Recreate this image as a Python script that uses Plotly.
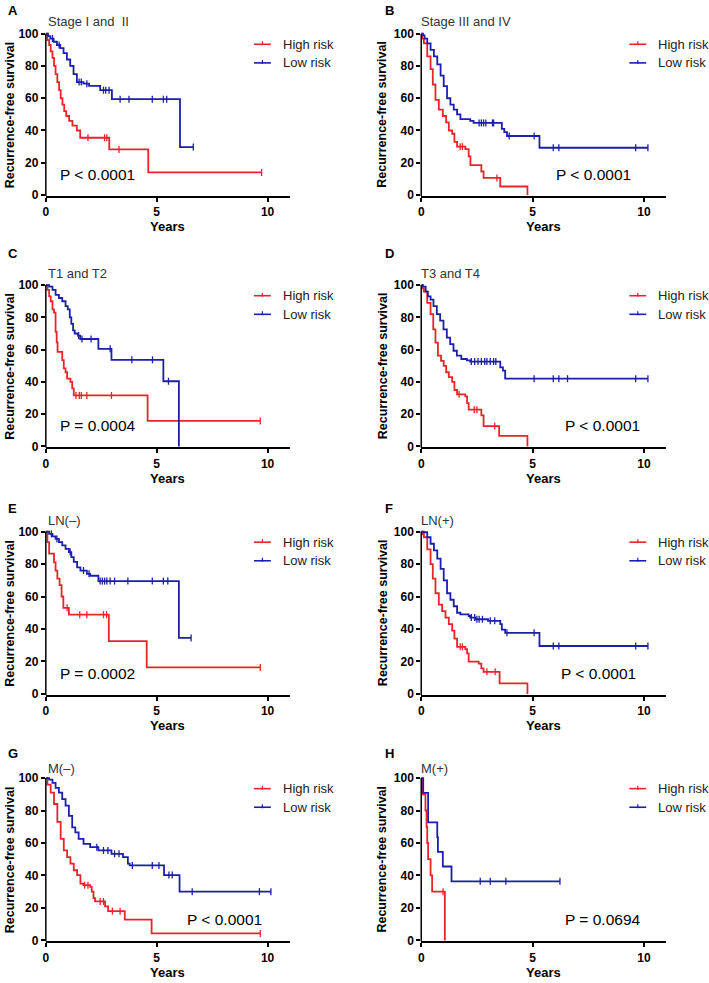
import plotly.graph_objects as go

W, H = 709, 983
FONT = "Liberation Sans, Arial, sans-serif"
RED = "#e8242b"
BLUE = "#1b1faa"

# ---------------- data: event times (years), survival after each drop (%), curve end, censor times
A_high_t = [0.07, 0.15, 0.22, 0.3, 0.37, 0.44, 0.52, 0.6, 0.67, 0.75, 0.83, 0.92, 1.05, 1.2, 1.4, 1.55, 2.86, 4.62]
A_high_s = [96, 93, 89, 85, 80, 75, 70, 65, 60, 56, 52, 49, 46, 43, 40, 35.5, 28.3, 14]
A_high_end = 9.73
A_high_c = [1.9, 2.65, 2.75, 3.3, 9.73]
A_low_t = [0.1, 0.2, 0.35, 0.5, 0.65, 0.8, 0.95, 1.1, 1.25, 1.4, 1.7, 1.95, 2.45, 2.98, 6.05]
A_low_s = [98.5, 97, 95, 93, 91, 88, 84, 80, 75, 70, 69, 67.6, 65, 59.4, 29.7]
A_low_end = 6.65
A_low_c = [0.3, 0.6, 1.5, 1.6, 1.85, 2.6, 2.7, 2.85, 3.35, 3.75, 4.8, 5.3, 5.45, 6.65]

B_high_t = [0.05, 0.12, 0.27, 0.42, 0.52, 0.64, 0.79, 0.97, 1.12, 1.24, 1.39, 1.49, 1.61, 1.98, 2.13, 2.21, 2.7, 2.8, 3.55, 4.77]
B_high_s = [97, 94, 86, 78, 68.5, 59, 53, 49, 45, 40, 38, 33, 30, 28.5, 24, 18.5, 14.6, 10.6, 5.3, 0]
B_high_end = 4.77
B_high_c = [1.75, 1.85, 3.4]
B_low_t = [0.08, 0.15, 0.27, 0.42, 0.57, 0.72, 0.87, 1.01, 1.16, 1.31, 1.46, 1.61, 1.76, 2.2, 2.35, 3.62, 3.73, 3.85, 5.31]
B_low_s = [99, 97, 94, 90, 86, 81, 74, 67.5, 60, 56, 53, 50, 47, 46, 44.7, 41, 39, 36.6, 29.3]
B_low_end = 10.18
B_low_c = [2.6, 2.7, 2.8, 2.9, 3.2, 3.25, 3.95, 5.07, 5.93, 6.18, 9.63, 10.18]

C_high_t = [0.07, 0.15, 0.22, 0.3, 0.37, 0.44, 0.49, 0.53, 0.74, 0.81, 0.89, 0.96, 1.11, 1.19, 1.26, 4.59]
C_high_s = [97, 93, 90, 85, 83, 71, 64.5, 58.6, 53.5, 48.4, 46, 42, 40, 36, 31.6, 15.8]
C_high_end = 9.67
C_high_c = [1.36, 1.51, 1.6, 1.85, 2.96, 9.67]
C_low_t = [0.15, 0.3, 0.44, 0.59, 0.74, 0.89, 0.99, 1.08, 1.15, 1.23, 1.3, 1.45, 1.55, 2.37, 2.96, 5.3, 6.0]
C_low_s = [99, 97, 94, 92, 90, 87, 85, 80, 76, 72, 70, 68.7, 66.6, 60.5, 53.7, 40.4, 0]
C_low_end = 6.0
C_low_c = [1.48, 1.63, 2.04, 2.9, 3.88, 4.81, 5.53]

D_high_t = [0.05, 0.12, 0.27, 0.42, 0.54, 0.64, 0.75, 0.89, 1.01, 1.12, 1.24, 1.39, 1.49, 1.61, 1.98, 2.06, 2.13, 2.7, 2.8, 3.5, 4.77]
D_high_s = [98, 96, 89, 82, 72.6, 64.4, 56.3, 53, 50, 46, 43, 40, 35, 32.3, 31, 26.8, 22.8, 19.3, 12.6, 6.5, 0]
D_high_end = 4.77
D_high_c = [1.7, 2.38, 2.5, 3.3]
D_low_t = [0.08, 0.2, 0.3, 0.42, 0.55, 0.7, 0.85, 1.0, 1.15, 1.3, 1.45, 1.6, 1.8, 2.05, 2.2, 3.55, 3.67, 3.77]
D_low_s = [99, 96, 93, 91, 87, 82, 78, 72.6, 67.5, 63.4, 59.3, 56.3, 54.2, 53.3, 52.6, 49, 47, 42]
D_low_end = 10.18
D_low_c = [2.25, 2.4, 2.55, 2.7, 2.85, 2.95, 3.1, 3.25, 3.35, 5.07, 5.93, 6.18, 6.57, 9.63, 10.18]

E_high_t = [0.07, 0.15, 0.37, 0.44, 0.52, 0.62, 0.71, 0.79, 1.04, 2.84, 4.55]
E_high_s = [93.5, 86.4, 81, 76, 71, 67, 60, 53, 48.8, 32.5, 16.3]
E_high_end = 9.67
E_high_c = [0.96, 1.53, 1.85, 2.6, 2.74, 9.67]
E_low_t = [0.15, 0.3, 0.44, 0.59, 0.74, 0.89, 1.04, 1.15, 1.26, 1.41, 1.56, 1.85, 2.0, 2.37, 6.0]
E_low_s = [98.6, 97, 95.5, 93.5, 91.5, 89.4, 87.4, 84.3, 81.3, 78, 76, 74, 72.8, 69.5, 34.5]
E_low_end = 6.55
E_low_c = [0.25, 0.5, 1.1, 1.7, 1.95, 2.45, 2.55, 2.65, 2.75, 2.9, 3.1, 3.7, 4.8, 5.3, 5.5, 6.55]

F_high_t = [0.05, 0.12, 0.27, 0.42, 0.52, 0.64, 0.79, 0.94, 1.09, 1.24, 1.39, 1.49, 1.61, 1.98, 2.06, 2.13, 2.58, 2.7, 2.8, 3.52, 4.77]
F_high_s = [98.5, 96.5, 89, 80, 71, 62, 55, 51, 47, 43, 39, 34, 29, 27.6, 25, 19.9, 18.7, 15.7, 13.6, 6.5, 0]
F_high_end = 4.77
F_high_c = [1.75, 1.85, 2.95, 3.32]
F_low_t = [0.12, 0.27, 0.42, 0.57, 0.72, 0.87, 1.01, 1.16, 1.31, 1.46, 1.61, 1.76, 2.13, 2.2, 2.42, 3.0, 3.55, 3.62, 3.77, 5.31]
F_low_s = [99.6, 96.5, 92.5, 88.4, 83.3, 77, 70, 62, 58, 54, 50, 49, 48, 47, 46, 45, 43, 39.6, 37.6, 29.5]
F_low_end = 10.18
F_low_c = [2.25, 2.4, 2.5, 2.6, 2.75, 3.1, 3.3, 3.85, 5.07, 5.93, 6.18, 9.63, 10.18]

G_high_t = [0.07, 0.22, 0.37, 0.52, 0.67, 0.81, 0.96, 1.11, 1.26, 1.41, 1.56, 1.7, 2.0, 2.07, 2.15, 2.22, 2.67, 2.81, 3.56, 4.77]
G_high_s = [96, 91, 84, 73, 62.5, 55.4, 51.3, 47.3, 43.2, 40.2, 35, 34, 33, 30, 26, 24, 21, 18, 12.8, 4.3]
G_high_end = 9.67
G_high_c = [1.75, 1.9, 2.45, 2.6, 3.0, 3.35, 9.67]
G_low_t = [0.15, 0.3, 0.44, 0.59, 0.74, 0.89, 1.04, 1.19, 1.33, 1.48, 1.7, 2.0, 2.37, 2.96, 3.48, 3.7, 3.78, 5.33, 6.03]
G_low_s = [99, 97, 94, 91, 87, 83, 76.7, 69.6, 66.5, 62.5, 59.4, 57.4, 55.4, 53.3, 51.3, 47.3, 46.2, 40.2, 30]
G_low_end = 10.15
G_low_c = [2.3, 2.6, 2.8, 3.1, 3.3, 3.9, 4.8, 5.1, 5.55, 5.7, 6.6, 9.63, 10.15]

H_high_t = [0.045, 0.19, 0.24, 0.27, 0.31, 0.42, 0.49, 1.06]
H_high_s = [90, 80, 70, 60, 50, 40, 30, 0]
H_high_end = 1.06
H_high_c = [0.98]
H_low_t = [0.09, 0.31, 0.72, 0.75, 0.97, 1.36]
H_low_s = [90.9, 72.7, 63.6, 54.5, 45.5, 36.4]
H_low_end = 6.23
H_low_c = [2.65, 3.1, 3.8, 6.23]

letters = ["A", "B", "C", "D", "E", "F", "G", "H"]
titles = ["Stage I and  II", "Stage III and IV", "T1 and T2", "T3 and T4", "LN(\u2013)", "LN(+)", "M(\u2013)", "M(+)"]
p_texts = ["P < 0.0001", "P < 0.0001", "P = 0.0004", "P < 0.0001", "P = 0.0002", "P < 0.0001", "P < 0.0001", "P = 0.0694"]
series_names = ["High risk", "Low risk"]
x_ticks = [0, 5, 10]
y_ticks = [0, 20, 40, 60, 80, 100]

curves = [
    (A_high_t, A_high_s, A_high_end, A_high_c, A_low_t, A_low_s, A_low_end, A_low_c),
    (B_high_t, B_high_s, B_high_end, B_high_c, B_low_t, B_low_s, B_low_end, B_low_c),
    (C_high_t, C_high_s, C_high_end, C_high_c, C_low_t, C_low_s, C_low_end, C_low_c),
    (D_high_t, D_high_s, D_high_end, D_high_c, D_low_t, D_low_s, D_low_end, D_low_c),
    (E_high_t, E_high_s, E_high_end, E_high_c, E_low_t, E_low_s, E_low_end, E_low_c),
    (F_high_t, F_high_s, F_high_end, F_high_c, F_low_t, F_low_s, F_low_end, F_low_c),
    (G_high_t, G_high_s, G_high_end, G_high_c, G_low_t, G_low_s, G_low_end, G_low_c),
    (H_high_t, H_high_s, H_high_end, H_high_c, H_low_t, H_low_s, H_low_end, H_low_c),
]

# ---------------- layout geometry (pixels)
col_x0 = [43, 420]
col_x1 = [288, 666]
row_y100 = [30, 284, 533, 782]
row_y0 = [193, 447, 697, 946]
letter_y = [7, 252, 510, 757]
title_y = [18, 272, 522, 772]
letter_x = [10, 388]
title_x = [43, 418]
ytitle_x = [7, 381]
p_x = [55, 553, 55, 562, 55, 558, 183, 562]
X_RANGE = [0, 11]
Y_RANGE = [-0.6, 102]


def fx(px):
    return px / W


def fy(py):
    return 1 - py / H


def surv_at(times, surv, t):
    s = 100
    for ti, si in zip(times, surv):
        if ti <= t:
            s = si
    return s


fig = go.Figure()
layout = dict(
    width=W, height=H, autosize=False,
    margin=dict(l=0, r=0, t=0, b=0),
    paper_bgcolor="white", plot_bgcolor="white",
    showlegend=False,
)
shapes = []
annotations = []

for i in range(8):
    col = i % 2
    row = i // 2
    x0, x1 = col_x0[col], col_x1[col]
    y100, y0 = row_y100[row], row_y0[row]
    upp = (y0 - y100) / 100.0
    dom_top = y100 - (Y_RANGE[1] - 100) * upp
    dom_bot = y0 - Y_RANGE[0] * upp
    sfx = "" if i == 0 else str(i + 1)
    xa, ya = "x" + sfx, "y" + sfx
    layout["xaxis" + sfx] = dict(
        domain=[fx(x0), fx(x1)], range=X_RANGE, anchor=ya,
        tickvals=x_ticks, ticks="outside", ticklen=4, tickwidth=1.5, tickcolor="black",
        showline=True, linewidth=1.5, linecolor="black", showgrid=False, zeroline=False,
        tickfont=dict(family=FONT, size=12, color="black", weight="bold"),
        fixedrange=True,
    )
    layout["yaxis" + sfx] = dict(
        domain=[fy(dom_bot), fy(dom_top)], range=Y_RANGE, anchor=xa,
        tickvals=y_ticks, ticks="outside", ticklen=4, tickwidth=1.5, tickcolor="black",
        showline=False, showgrid=False, zeroline=False,
        tickfont=dict(family=FONT, size=12, color="black", weight="bold"),
        fixedrange=True,
    )
    # y axis line from 0 to 100
    shapes.append(dict(type="line", xref="paper", yref="paper",
                       x0=fx(x0), x1=fx(x0), y0=fy(dom_bot), y1=fy(y100),
                       line=dict(color="black", width=1.5)))

    ht, hs, he, hc, lt, ls, le, lc = curves[i]
    for (t, s, e, c, color, name) in [(ht, hs, he, hc, RED, series_names[0]),
                                      (lt, ls, le, lc, BLUE, series_names[1])]:
        xs = [0] + list(t) + [e]
        ys = [100] + list(s) + [s[-1]]
        fig.add_trace(go.Scatter(x=xs, y=ys, mode="lines", line=dict(color=color, width=1.8, shape="hv"),
                                 name=name, xaxis=xa, yaxis=ya, hoverinfo="skip"))
        cy = [surv_at(t, s, ct) for ct in c]
        fig.add_trace(go.Scatter(x=c, y=cy, mode="markers", name=name, xaxis=xa, yaxis=ya,
                                 marker=dict(symbol="line-ns", size=5,
                                             line=dict(color=color, width=1.3)),
                                 cliponaxis=False, hoverinfo="skip"))

    # panel letter and title
    annotations.append(dict(text="<b>%s</b>" % letters[i], x=fx(letter_x[col]), y=fy(letter_y[row]),
                            xref="paper", yref="paper", xanchor="center", yanchor="middle",
                            showarrow=False, font=dict(family=FONT, size=13, color="black")))
    annotations.append(dict(text=titles[i], x=fx(title_x[col]), y=fy(title_y[row]),
                            xref="paper", yref="paper", xanchor="left", yanchor="middle",
                            showarrow=False, font=dict(family=FONT, size=13, color="#333333")))
    # axis titles
    annotations.append(dict(text="<b>Recurrence-free survival</b>", x=fx(ytitle_x[col]),
                            y=fy((y0 + y100) / 2), xref="paper", yref="paper",
                            xanchor="center", yanchor="middle", textangle=-90,
                            showarrow=False, font=dict(family=FONT, size=12.5, color="black")))
    annotations.append(dict(text="<b>Years</b>", x=fx((x0 + x1) / 2), y=fy(y0 + 32),
                            xref="paper", yref="paper", xanchor="center", yanchor="middle",
                            showarrow=False, font=dict(family=FONT, size=13, color="black")))
    # P value
    annotations.append(dict(text=p_texts[i], x=fx(p_x[i]), y=fy(y0 - 21),
                            xref="paper", yref="paper", xanchor="left", yanchor="middle",
                            showarrow=False, font=dict(family=FONT, size=15.5, color="black")))
    # legend
    for k, (name, color) in enumerate([(series_names[0], RED), (series_names[1], BLUE)]):
        ly = y100 + (10.7 if k == 0 else 29.5)
        lx0 = x0 + 209
        lx1 = x0 + 226
        shapes.append(dict(type="line", xref="paper", yref="paper",
                           x0=fx(lx0), x1=fx(lx1), y0=fy(ly), y1=fy(ly),
                           line=dict(color=color, width=1.6)))
        shapes.append(dict(type="line", xref="paper", yref="paper",
                           x0=fx((lx0 + lx1) / 2), x1=fx((lx0 + lx1) / 2), y0=fy(ly - 3), y1=fy(ly + 1),
                           line=dict(color=color, width=1.2)))
        annotations.append(dict(text=name, x=fx(x0 + 236), y=fy(ly),
                                xref="paper", yref="paper", xanchor="left", yanchor="middle",
                                showarrow=False, font=dict(family=FONT, size=13, color="#222222")))

layout["shapes"] = shapes
layout["annotations"] = annotations
fig.update_layout(**layout)
fig.write_html(
    "out.html",
    config={"displayModeBar": False},
    post_script="document.body.style.margin='0';document.body.style.padding='0';"
                "document.body.style.overflow='hidden';"
                "document.documentElement.style.overflow='hidden';",
)
